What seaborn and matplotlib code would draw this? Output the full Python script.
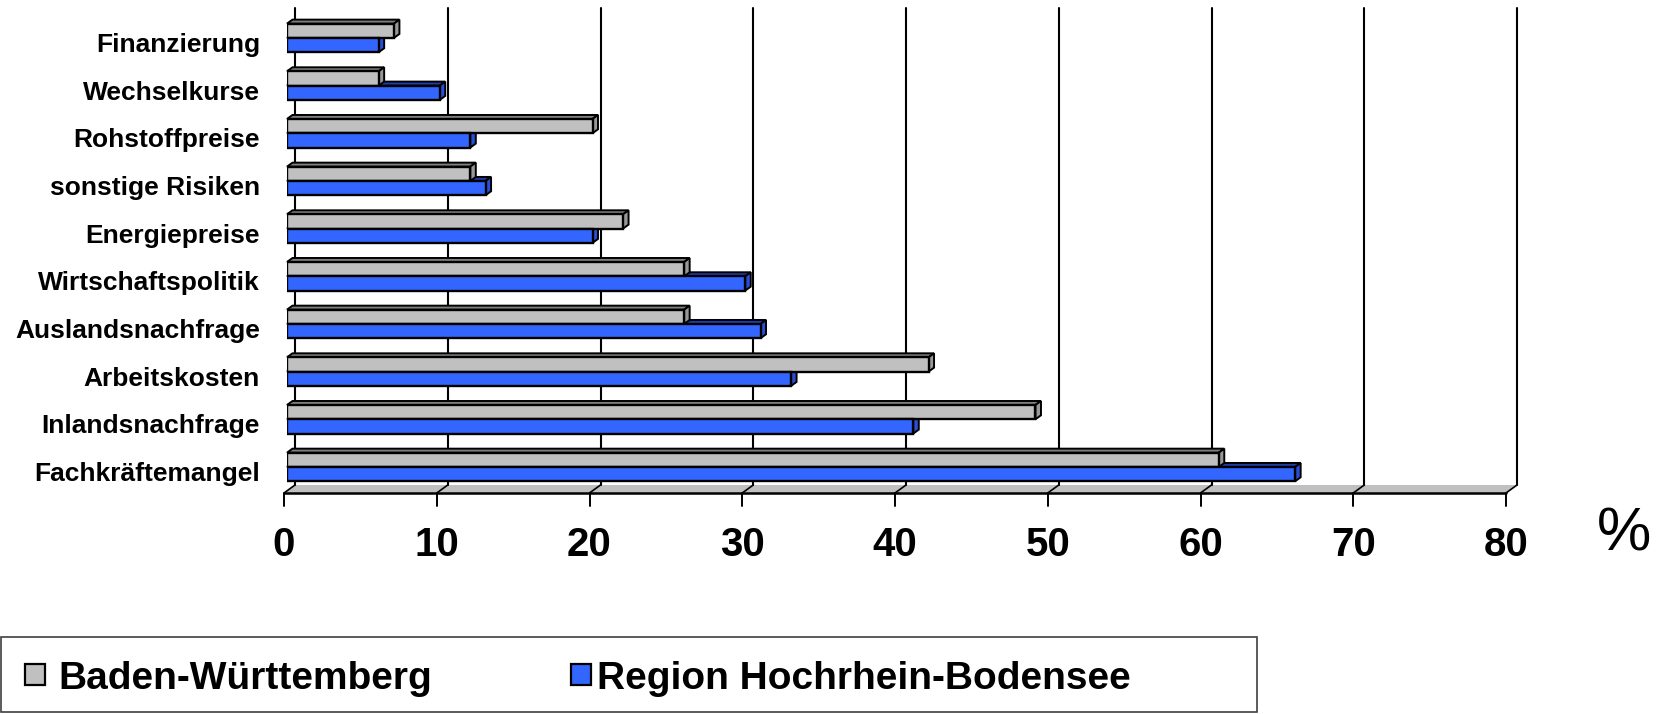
import numpy as np
import pandas as pd
import matplotlib
matplotlib.use("Agg")
import matplotlib.pyplot as plt
import seaborn as sns
from matplotlib.patches import Polygon, Rectangle
from matplotlib.transforms import IdentityTransform, ScaledTranslation

# Daten
kategorien = ["Finanzierung", "Wechselkurse", "Rohstoffpreise", "sonstige Risiken",
              "Energiepreise", "Wirtschaftspolitik", "Auslandsnachfrage",
              "Arbeitskosten", "Inlandsnachfrage", "Fachkräftemangel"]
baden_wuerttemberg = [7, 6, 20, 12, 22, 26, 26, 42, 49, 61]
hochrhein_bodensee = [6, 10, 12, 13, 20, 30, 31, 33, 41, 66]
reihen = ["Baden-Württemberg", "Region Hochrhein-Bodensee"]
x_ticks = [0, 10, 20, 30, 40, 50, 60, 70, 80]

farben = ["#C0C0C0", "#3366FF"]
oben = ["#7F7F7F", "#1F3DA8"]
seite = ["#989898", "#2A4FD6"]

df = pd.DataFrame({
    "Kategorie": kategorien * 2,
    "Reihe": [reihen[0]] * len(kategorien) + [reihen[1]] * len(kategorien),
    "Wert": baden_wuerttemberg + hochrhein_bodensee,
})

sns.set_theme(style="white")
plt.rcParams["font.family"] = ["Liberation Sans", "DejaVu Sans"]

W, H = 1663, 714
fig = plt.figure(figsize=(W / 100, H / 100), dpi=100)
ax = fig.add_axes([287 / W, 1 - 490.8 / H, 1222 / W, 476.7 / H])

sns.barplot(data=df, y="Kategorie", x="Wert", hue="Reihe", orient="h",
            order=kategorien, hue_order=reihen, palette=farben, width=0.6,
            edgecolor="black", linewidth=1.7, saturation=1, legend=False,
            ax=ax, zorder=3)

ax.set_xlim(0, 80)
ax.set_ylim(9.5, -0.5)
for s in ax.spines.values():
    s.set_visible(False)
ax.set_xticks([])
ax.set_xlabel("")
ax.set_ylabel("")
ax.patch.set_alpha(0)
ax.grid(False)

ax.tick_params(axis="y", length=0, pad=19.4, labelsize=19)
for lab in ax.get_yticklabels():
    lab.set_fontweight("bold")
    lab.set_color("black")
    lab.set_transform(lab.get_transform() + ScaledTranslation(0, -4.5 / 100, fig.dpi_scale_trans))

T = ax.transData.transform
ident = IdentityTransform()
back = np.array([8.0, 5.8])
front = np.array([-3.0, -2.2])
tiefe = np.array([5.5, 4.0])

# Boden
fl = T((0, 9.5)) + front
fr = T((80, 9.5)) + front
br = T((80, 9.5)) + back
bl = T((0, 9.5)) + back
ax.add_patch(Polygon([fl, fr, br, bl], closed=True, transform=ident,
                     facecolor="#C0C0C0", edgecolor="none", zorder=1, clip_on=False))
ax.plot([fl[0], fr[0]], [fl[1], fr[1]], color="black", lw=1.8,
        transform=ident, clip_on=False, zorder=2)

# Rueckwand-Gitter, Bodenlinien, Ticks
for v in x_ticks:
    pb = T((v, 9.5)) + back
    pt = T((v, -0.5)) + back
    pf = T((v, 9.5)) + front
    ax.plot([pb[0], pt[0]], [pb[1], pt[1]], color="black", lw=1.5,
            transform=ident, clip_on=False, zorder=1.5)
    ax.plot([pf[0], pb[0]], [pf[1], pb[1]], color="black", lw=1.2,
            transform=ident, clip_on=False, zorder=2)
    ax.plot([pf[0], pf[0]], [pf[1], pf[1] - 13], color="black", lw=1.4,
            transform=ident, clip_on=False, zorder=2)
    ax.text(pf[0], H - 556, str(v), transform=ident, ha="center", va="baseline",
            fontsize=29, fontweight="bold", color="black")

ax.text(1624, H - 535, "%", transform=ident, ha="center", va="center",
        fontsize=44, color="black")

# 3D-Effekt der Balken
n = len(kategorien)
for i, p in enumerate(ax.patches[:2 * n]):
    k = i // n
    x0, y0 = p.get_x(), p.get_y()
    w, h = p.get_width(), p.get_height()
    a = T((x0, y0))          # oben links (y invertiert)
    b = T((x0 + w, y0))      # oben rechts
    c = T((x0 + w, y0 + h))  # unten rechts
    ax.add_patch(Polygon([a, b, b + tiefe, a + tiefe], closed=True, transform=ident,
                         facecolor=oben[k], edgecolor="black", lw=1.4, zorder=2.8,
                         clip_on=False))
    ax.add_patch(Polygon([c, b, b + tiefe, c + tiefe], closed=True, transform=ident,
                         facecolor=seite[k], edgecolor="black", lw=1.4, zorder=2.9,
                         clip_on=False))

# Legende
fig.add_artist(Rectangle((0.5, H - 712), 1256, 75, transform=ident, fill=False,
                         edgecolor="#404040", lw=1.2))
for x_sq, x_txt, k in [(25, 58, 0), (571, 597, 1)]:
    fig.add_artist(Rectangle((x_sq, H - 685), 20, 21, transform=ident,
                             facecolor=farben[k], edgecolor="black", lw=1.6))
    fig.text(x_txt, H - 689, reihen[k], transform=ident, ha="left", va="baseline",
             fontsize=28, fontweight="bold", color="black")

fig.savefig("out.png", dpi=100)
